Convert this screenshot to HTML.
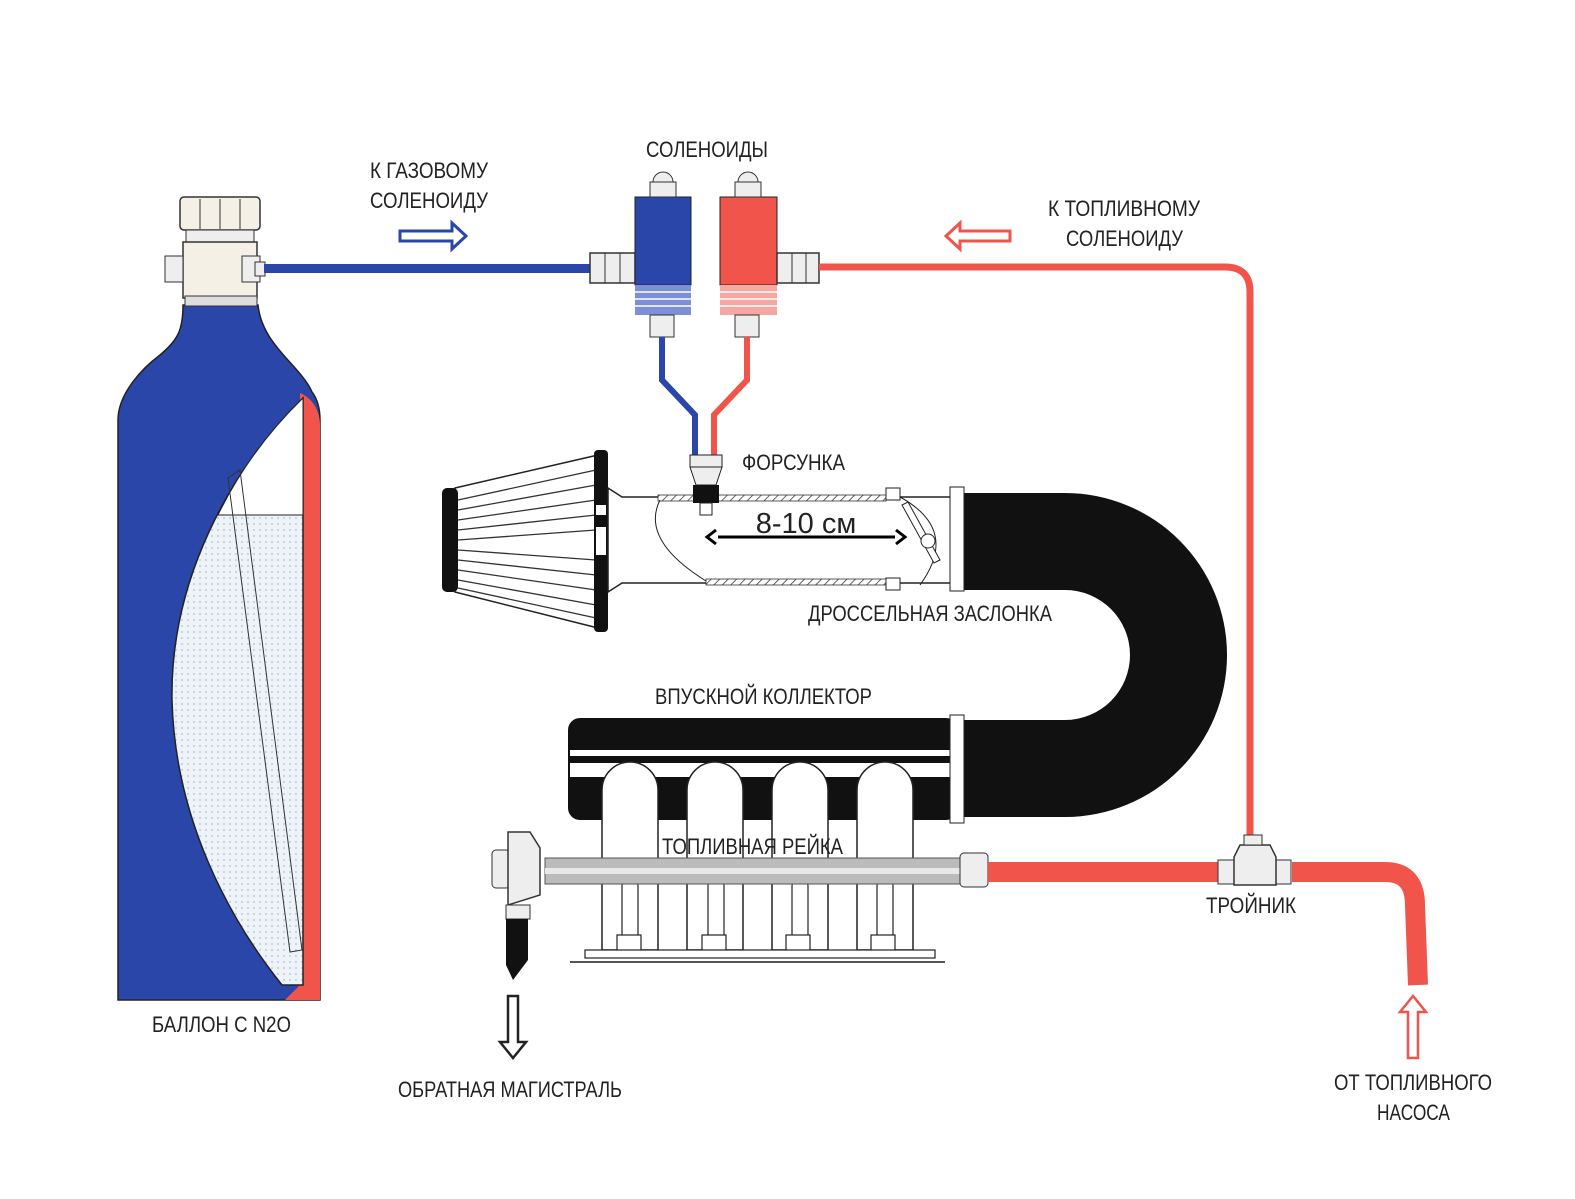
<!DOCTYPE html>
<html><head><meta charset="utf-8"><style>
html,body{margin:0;padding:0;background:#fff}
svg{display:block}
text{font-family:"Liberation Sans",sans-serif;fill:#222}
</style></head><body>
<svg width="1575" height="1199" viewBox="0 0 1575 1199" xmlns="http://www.w3.org/2000/svg">
<defs>
<pattern id="dots" width="6" height="6" patternUnits="userSpaceOnUse"><rect width="6" height="6" fill="#eef3f8"/><circle cx="2" cy="2" r="0.9" fill="#a9bfd6"/></pattern>
<pattern id="hatch" width="6" height="6" patternUnits="userSpaceOnUse" patternTransform="rotate(45)"><rect width="6" height="6" fill="#fff"/><line x1="0" y1="0" x2="0" y2="6" stroke="#333" stroke-width="1.5"/></pattern>
</defs>

<!-- Cylinder -->
<path d="M183,305 L258,305 C262,345 300,365 312,392 C318,400 320,410 320,420 L320,1000 L118,1000 L118,420 C118,395 140,370 160,355 C178,340 183,330 183,305 Z" fill="#2a46a8" stroke="#222" stroke-width="1.5"/>
<path d="M300,393 C312,398 320,410 320,425 L320,1000 L285,1000 L300,985 Z" fill="#f0544b"/>
<path d="M303,398 C230,470 170,580 172,700 C175,820 230,920 282,985 L303,985 Z" fill="url(#dots)" stroke="#222" stroke-width="1.5"/>
<path d="M303,398 C270,430 240,470 218,515 L303,515 Z" fill="#fff" stroke="#222" stroke-width="1"/>
<polygon points="228,478 240,470 302,950 290,952" fill="none" stroke="#333" stroke-width="1"/>
<!-- valve -->
<rect x="180" y="197" width="80" height="33" rx="4" fill="#f4f0e6" stroke="#333" stroke-width="1.5"/>
<line x1="200" y1="199" x2="200" y2="229" stroke="#333"/><line x1="220" y1="199" x2="220" y2="229" stroke="#333"/><line x1="240" y1="199" x2="240" y2="229" stroke="#333"/>
<rect x="186" y="230" width="68" height="12" fill="#eee" stroke="#333"/>
<rect x="183" y="242" width="74" height="56" fill="#f4f0e6" stroke="#333" stroke-width="1.5"/>
<rect x="165" y="256" width="18" height="26" fill="#eee" stroke="#333"/>
<rect x="242" y="256" width="18" height="26" fill="#eee" stroke="#333"/>
<rect x="255" y="262" width="10" height="14" fill="#eee" stroke="#333"/>
<rect x="185" y="296" width="72" height="10" fill="#ddd" stroke="#333"/>

<!-- blue line -->
<rect x="264" y="264" width="328" height="9" fill="#2a46a8"/>
<polygon points="400,231 452,231 452,223 466,236 452,249 452,241 400,241" fill="#fff" stroke="#2a46a8" stroke-width="3"/>

<!-- Solenoids -->
<rect x="590" y="253" width="45" height="30" fill="#eee" stroke="#333" stroke-width="1.5"/>
<line x1="605" y1="253" x2="605" y2="283" stroke="#333"/><line x1="620" y1="253" x2="620" y2="283" stroke="#333"/>
<rect x="635" y="197" width="56" height="88" fill="#2a46a8" stroke="#222"/>
<rect x="635" y="285" width="56" height="30" fill="#7d8fd6"/>
<g stroke="#fff" stroke-width="1.5"><line x1="635" y1="292" x2="691" y2="292"/><line x1="635" y1="299" x2="691" y2="299"/><line x1="635" y1="306" x2="691" y2="306"/></g>
<rect x="650" y="182" width="26" height="15" fill="#eee" stroke="#333"/>
<path d="M653,182 A10,10 0 0 1 673,182 Z" fill="#eee" stroke="#333"/>
<rect x="650" y="315" width="24" height="22" fill="#eee" stroke="#333"/>

<rect x="720" y="197" width="57" height="88" fill="#f0544b" stroke="#222"/>
<rect x="720" y="285" width="57" height="30" fill="#f7a7a2"/>
<g stroke="#fff" stroke-width="1.5"><line x1="720" y1="292" x2="777" y2="292"/><line x1="720" y1="299" x2="777" y2="299"/><line x1="720" y1="306" x2="777" y2="306"/></g>
<rect x="735" y="182" width="26" height="15" fill="#eee" stroke="#333"/>
<path d="M738,182 A10,10 0 0 1 758,182 Z" fill="#eee" stroke="#333"/>
<rect x="735" y="315" width="24" height="22" fill="#eee" stroke="#333"/>
<rect x="777" y="253" width="42" height="30" fill="#eee" stroke="#333" stroke-width="1.5"/>
<line x1="792" y1="253" x2="792" y2="283" stroke="#333"/><line x1="806" y1="253" x2="806" y2="283" stroke="#333"/>

<path d="M662,337 L662,380 L695,415 L695,455" fill="none" stroke="#2a46a8" stroke-width="6"/>
<path d="M747,337 L747,380 L714,415 L714,455" fill="none" stroke="#f0544b" stroke-width="6"/>

<path d="M819,267 L1225,267 Q1250,267 1250,292 L1250,840" fill="none" stroke="#f0544b" stroke-width="7"/>
<polygon points="1010,231 960,231 960,223 946,236 960,249 960,241 1010,241" fill="#fff" stroke="#f0544b" stroke-width="3"/>

<!-- black U pipe -->
<path d="M960,493 L1065,493 A162,162 0 0 1 1065,817 L955,817 L955,720 L1065,720 A65,65 0 0 0 1065,590 L960,590 Z" fill="#111"/>

<!-- air filter -->
<polygon points="455,488 598,455 598,628 455,592" fill="#fff" stroke="#222" stroke-width="1.5"/>
<g stroke="#333" stroke-width="1.3">
<line x1="458" y1="500" x2="596" y2="470"/><line x1="458" y1="510" x2="596" y2="485"/><line x1="458" y1="520" x2="596" y2="500"/><line x1="458" y1="530" x2="596" y2="515"/><line x1="458" y1="540" x2="596" y2="530"/><line x1="458" y1="550" x2="596" y2="560"/><line x1="458" y1="560" x2="596" y2="575"/><line x1="458" y1="570" x2="596" y2="590"/><line x1="458" y1="580" x2="596" y2="605"/><line x1="458" y1="588" x2="596" y2="618"/></g>
<rect x="442" y="488" width="16" height="104" rx="5" fill="#111"/>
<rect x="594" y="450" width="14" height="182" rx="4" fill="#111"/>
<rect x="596" y="505" width="10" height="10" fill="#fff"/><rect x="596" y="527" width="10" height="28" fill="#fff"/>

<!-- throttle tube -->
<path d="M608,488 L622,497 L955,497 L955,583 L622,583 L608,592 Z" fill="#fff" stroke="#222" stroke-width="1.5"/>
<rect x="658" y="495" width="228" height="6" fill="url(#hatch)" stroke="#333" stroke-width="0.8"/>
<rect x="706" y="579" width="180" height="6" fill="url(#hatch)" stroke="#333" stroke-width="0.8"/>
<path d="M660,500 Q640,540 706,581" fill="none" stroke="#222" stroke-width="1"/>
<path d="M900,497 Q960,530 920,585" fill="none" stroke="#222" stroke-width="1"/>
<rect x="886" y="488" width="14" height="12" fill="#fff" stroke="#222"/>
<rect x="886" y="578" width="14" height="12" fill="#fff" stroke="#222"/>
<polygon points="902,505 908,502 940,560 934,563" fill="#fff" stroke="#222"/>
<circle cx="928" cy="541" r="7" fill="#fff" stroke="#222"/>
<rect x="950" y="487" width="14" height="104" fill="#fff" stroke="#222"/>
<rect x="690" y="455" width="32" height="12" fill="#eee" stroke="#222"/>
<path d="M690,467 L722,467 L716,485 L696,485 Z" fill="#eee" stroke="#222"/>
<rect x="693" y="485" width="26" height="18" fill="#111"/>
<rect x="700" y="503" width="12" height="12" fill="#fff" stroke="#222"/>
<line x1="718" y1="537" x2="895" y2="537" stroke="#000" stroke-width="3"/>
<polyline points="716,530 707,537 716,544" fill="none" stroke="#000" stroke-width="3"/>
<polyline points="896,530 905,537 896,544" fill="none" stroke="#000" stroke-width="3"/>
<text x="806" y="533" text-anchor="middle" font-size="29" fill="#000">8-10 см</text>

<!-- manifold -->
<rect x="568" y="718" width="390" height="102" rx="12" fill="#111"/>
<rect x="570" y="750" width="385" height="6" fill="#fff"/>
<rect x="570" y="763" width="385" height="14" fill="#fff"/>
<rect x="950" y="715" width="14" height="108" fill="#fff" stroke="#222"/>
<g fill="#fff" stroke="#222" stroke-width="1.5">
<path d="M602,950 L602,790 A28,28 0 0 1 658,790 L658,950 Z"/>
<path d="M687,950 L687,790 A28,28 0 0 1 743,790 L743,950 Z"/>
<path d="M772,950 L772,790 A28,28 0 0 1 828,790 L828,950 Z"/>
<path d="M857,950 L857,790 A28,28 0 0 1 913,790 L913,950 Z"/>
</g>
<g fill="#fff" stroke="#222" stroke-width="1.2">
<rect x="622" y="880" width="16" height="60" rx="6"/><rect x="708" y="880" width="16" height="60" rx="6"/><rect x="792" y="880" width="16" height="60" rx="6"/><rect x="877" y="880" width="16" height="60" rx="6"/>
<rect x="617" y="935" width="24" height="18"/><rect x="702" y="935" width="24" height="18"/><rect x="786" y="935" width="24" height="18"/><rect x="871" y="935" width="24" height="18"/>
<rect x="585" y="950" width="350" height="8"/>
</g>
<line x1="570" y1="962" x2="945" y2="962" stroke="#555" stroke-width="2"/>
<rect x="545" y="858" width="420" height="26" fill="#bbb" stroke="#555"/>
<rect x="545" y="868" width="420" height="6" fill="#e8e8e8"/>
<rect x="960" y="853" width="28" height="34" rx="4" fill="#eee" stroke="#333"/>
<rect x="492" y="850" width="18" height="38" rx="4" fill="#eee" stroke="#333"/>
<path d="M508,832 L530,832 L540,848 L540,895 L508,905 Z" fill="#eee" stroke="#333" stroke-width="1.5"/>
<rect x="506" y="905" width="24" height="14" fill="#eee" stroke="#333"/>
<polygon points="506,919 528,919 528,960 513,980 506,965" fill="#111"/>
<polygon points="508,996 518,996 518,1042 526,1042 513,1058 500,1042 508,1042" fill="#fff" stroke="#222" stroke-width="2.5"/>

<rect x="988" y="862" width="230" height="20" fill="#f0544b"/>
<path d="M1292,872 L1385,872 Q1415,872 1415,905 L1418,985" fill="none" stroke="#f0544b" stroke-width="20"/>
<rect x="1218" y="860" width="16" height="24" fill="#eee" stroke="#333"/>
<rect x="1275" y="860" width="16" height="24" fill="#eee" stroke="#333"/>
<path d="M1240,845 L1270,845 L1276,857 L1276,885 L1234,885 L1234,857 Z" fill="#eee" stroke="#333" stroke-width="1.5"/>
<rect x="1244" y="835" width="18" height="10" fill="#eee" stroke="#333"/>
<polygon points="1408,1058 1408,1012 1400,1012 1413,996 1426,1012 1418,1012 1418,1058" fill="#fff" stroke="#f0544b" stroke-width="2.5"/>

<!-- labels -->
<g font-size="22" lengthAdjust="spacingAndGlyphs">
<text x="370" y="178" textLength="118" lengthAdjust="spacingAndGlyphs">К ГАЗОВОМУ</text>
<text x="370" y="208" textLength="118" lengthAdjust="spacingAndGlyphs">СОЛЕНОИДУ</text>
<text x="646" y="157" textLength="122" lengthAdjust="spacingAndGlyphs">СОЛЕНОИДЫ</text>
<text x="1048" y="216" textLength="152" lengthAdjust="spacingAndGlyphs">К ТОПЛИВНОМУ</text>
<text x="1066" y="246" textLength="117" lengthAdjust="spacingAndGlyphs">СОЛЕНОИДУ</text>
<text x="742" y="470" textLength="103" lengthAdjust="spacingAndGlyphs">ФОРСУНКА</text>
<text x="808" y="621" textLength="244" lengthAdjust="spacingAndGlyphs">ДРОССЕЛЬНАЯ ЗАСЛОНКА</text>
<text x="655" y="704" textLength="217" lengthAdjust="spacingAndGlyphs">ВПУСКНОЙ КОЛЛЕКТОР</text>
<text x="662" y="854" textLength="181" lengthAdjust="spacingAndGlyphs">ТОПЛИВНАЯ РЕЙКА</text>
<text x="1206" y="913" textLength="90" lengthAdjust="spacingAndGlyphs">ТРОЙНИК</text>
<text x="152" y="1032" textLength="139" lengthAdjust="spacingAndGlyphs">БАЛЛОН С N2O</text>
<text x="398" y="1097" textLength="224" lengthAdjust="spacingAndGlyphs">ОБРАТНАЯ МАГИСТРАЛЬ</text>
<text x="1334" y="1090" textLength="158" lengthAdjust="spacingAndGlyphs">ОТ ТОПЛИВНОГО</text>
<text x="1377" y="1120" textLength="73" lengthAdjust="spacingAndGlyphs">НАСОСА</text>
</g>
</svg>
</body></html>
